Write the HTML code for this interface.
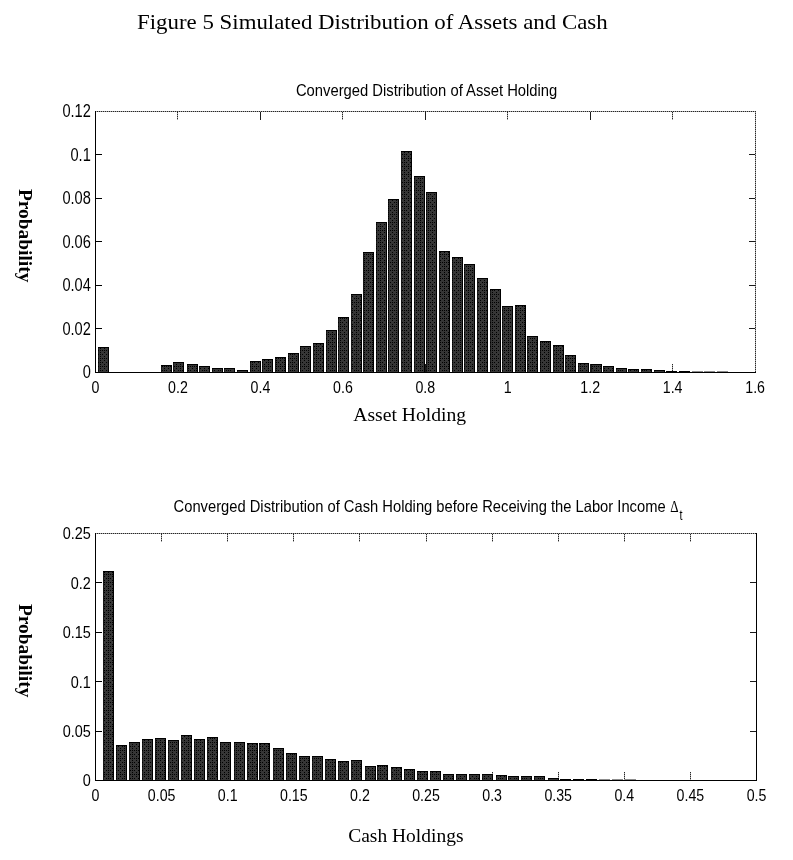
<!DOCTYPE html>
<html lang="en"><head><meta charset="utf-8"><title>Figure 5 Simulated Distribution of Assets and Cash</title>
<style>html,body{margin:0;padding:0;background:#fff;}body{width:793px;height:860px;overflow:hidden;}svg{display:block;}.sans{font-family:"Liberation Sans", Arial, Helvetica, sans-serif;fill:#000;}.serif{font-family:"Liberation Serif", "Times New Roman", Times, serif;fill:#000;}</style>
</head><body>
<svg width="793" height="860" viewBox="0 0 793 860">
<defs><pattern id="dith" width="8" height="8" patternUnits="userSpaceOnUse"><rect width="8" height="8" fill="#363636"/><g fill="#000"><rect x="0" y="0" width="1" height="1"/><rect x="4" y="0" width="1" height="1"/><rect x="2" y="2" width="1" height="1"/><rect x="4" y="2" width="1" height="1"/><rect x="6" y="2" width="1" height="1"/><rect x="0" y="4" width="1" height="1"/><rect x="4" y="4" width="1" height="1"/><rect x="0" y="6" width="1" height="1"/><rect x="2" y="6" width="1" height="1"/><rect x="4" y="6" width="1" height="1"/><rect x="6" y="6" width="1" height="1"/></g></pattern></defs>
<rect width="793" height="860" fill="#fff"/>
<text class="serif" font-size="21.5" textLength="470.7" lengthAdjust="spacingAndGlyphs" x="137" y="29.3" >Figure 5 Simulated Distribution of Assets and Cash</text>
<g shape-rendering="crispEdges">
<rect x="177" y="364" width="1" height="8" fill="#a6a6a6"/>
<line x1="177.5" y1="364" x2="177.5" y2="372" stroke="#262626" stroke-width="1" stroke-dasharray="1 1"/>
<rect x="260" y="364" width="1" height="8" fill="#1a1a1a"/>
<rect x="342" y="364" width="1" height="8" fill="#a6a6a6"/>
<line x1="342.5" y1="364" x2="342.5" y2="372" stroke="#262626" stroke-width="1" stroke-dasharray="1 1"/>
<rect x="425" y="364" width="1" height="8" fill="#1a1a1a"/>
<rect x="507" y="364" width="1" height="8" fill="#a6a6a6"/>
<line x1="507.5" y1="364" x2="507.5" y2="372" stroke="#262626" stroke-width="1" stroke-dasharray="1 1"/>
<rect x="590" y="364" width="1" height="8" fill="#1a1a1a"/>
<rect x="672" y="364" width="1" height="8" fill="#a6a6a6"/>
<line x1="672.5" y1="364" x2="672.5" y2="372" stroke="#262626" stroke-width="1" stroke-dasharray="1 1"/>
<rect x="98" y="347" width="11" height="25" fill="url(#dith)"/>
<rect x="98" y="347" width="11" height="1" fill="#000"/>
<rect x="108" y="347" width="1" height="25" fill="#000"/>
<rect x="98" y="347" width="1" height="25" fill="#000" opacity="0.55"/>
<rect x="161" y="365" width="11" height="7" fill="url(#dith)"/>
<rect x="161" y="365" width="11" height="1" fill="#000"/>
<rect x="171" y="365" width="1" height="7" fill="#000"/>
<rect x="161" y="365" width="1" height="7" fill="#000" opacity="0.55"/>
<rect x="173" y="362" width="11" height="10" fill="url(#dith)"/>
<rect x="173" y="362" width="11" height="1" fill="#000"/>
<rect x="183" y="362" width="1" height="10" fill="#000"/>
<rect x="173" y="362" width="1" height="10" fill="#000" opacity="0.55"/>
<rect x="187" y="364" width="11" height="8" fill="url(#dith)"/>
<rect x="187" y="364" width="11" height="1" fill="#000"/>
<rect x="197" y="364" width="1" height="8" fill="#000"/>
<rect x="187" y="364" width="1" height="8" fill="#000" opacity="0.55"/>
<rect x="199" y="366" width="11" height="6" fill="url(#dith)"/>
<rect x="199" y="366" width="11" height="1" fill="#000"/>
<rect x="209" y="366" width="1" height="6" fill="#000"/>
<rect x="199" y="366" width="1" height="6" fill="#000" opacity="0.55"/>
<rect x="212" y="368" width="11" height="4" fill="url(#dith)"/>
<rect x="212" y="368" width="11" height="1" fill="#000"/>
<rect x="222" y="368" width="1" height="4" fill="#000"/>
<rect x="212" y="368" width="1" height="4" fill="#000" opacity="0.55"/>
<rect x="224" y="368" width="11" height="4" fill="url(#dith)"/>
<rect x="224" y="368" width="11" height="1" fill="#000"/>
<rect x="234" y="368" width="1" height="4" fill="#000"/>
<rect x="224" y="368" width="1" height="4" fill="#000" opacity="0.55"/>
<rect x="237" y="370" width="11" height="2" fill="url(#dith)"/>
<rect x="237" y="370" width="11" height="1" fill="#000"/>
<rect x="247" y="370" width="1" height="2" fill="#000"/>
<rect x="237" y="370" width="1" height="2" fill="#000" opacity="0.55"/>
<rect x="250" y="361" width="11" height="11" fill="url(#dith)"/>
<rect x="250" y="361" width="11" height="1" fill="#000"/>
<rect x="260" y="361" width="1" height="11" fill="#000"/>
<rect x="250" y="361" width="1" height="11" fill="#000" opacity="0.55"/>
<rect x="262" y="359" width="11" height="13" fill="url(#dith)"/>
<rect x="262" y="359" width="11" height="1" fill="#000"/>
<rect x="272" y="359" width="1" height="13" fill="#000"/>
<rect x="262" y="359" width="1" height="13" fill="#000" opacity="0.55"/>
<rect x="275" y="357" width="11" height="15" fill="url(#dith)"/>
<rect x="275" y="357" width="11" height="1" fill="#000"/>
<rect x="285" y="357" width="1" height="15" fill="#000"/>
<rect x="275" y="357" width="1" height="15" fill="#000" opacity="0.55"/>
<rect x="288" y="353" width="11" height="19" fill="url(#dith)"/>
<rect x="288" y="353" width="11" height="1" fill="#000"/>
<rect x="298" y="353" width="1" height="19" fill="#000"/>
<rect x="288" y="353" width="1" height="19" fill="#000" opacity="0.55"/>
<rect x="300" y="346" width="11" height="26" fill="url(#dith)"/>
<rect x="300" y="346" width="11" height="1" fill="#000"/>
<rect x="310" y="346" width="1" height="26" fill="#000"/>
<rect x="300" y="346" width="1" height="26" fill="#000" opacity="0.55"/>
<rect x="313" y="343" width="11" height="29" fill="url(#dith)"/>
<rect x="313" y="343" width="11" height="1" fill="#000"/>
<rect x="323" y="343" width="1" height="29" fill="#000"/>
<rect x="313" y="343" width="1" height="29" fill="#000" opacity="0.55"/>
<rect x="326" y="330" width="11" height="42" fill="url(#dith)"/>
<rect x="326" y="330" width="11" height="1" fill="#000"/>
<rect x="336" y="330" width="1" height="42" fill="#000"/>
<rect x="326" y="330" width="1" height="42" fill="#000" opacity="0.55"/>
<rect x="338" y="317" width="11" height="55" fill="url(#dith)"/>
<rect x="338" y="317" width="11" height="1" fill="#000"/>
<rect x="348" y="317" width="1" height="55" fill="#000"/>
<rect x="338" y="317" width="1" height="55" fill="#000" opacity="0.55"/>
<rect x="351" y="294" width="11" height="78" fill="url(#dith)"/>
<rect x="351" y="294" width="11" height="1" fill="#000"/>
<rect x="361" y="294" width="1" height="78" fill="#000"/>
<rect x="351" y="294" width="1" height="78" fill="#000" opacity="0.55"/>
<rect x="363" y="252" width="11" height="120" fill="url(#dith)"/>
<rect x="363" y="252" width="11" height="1" fill="#000"/>
<rect x="373" y="252" width="1" height="120" fill="#000"/>
<rect x="363" y="252" width="1" height="120" fill="#000" opacity="0.55"/>
<rect x="376" y="222" width="11" height="150" fill="url(#dith)"/>
<rect x="376" y="222" width="11" height="1" fill="#000"/>
<rect x="386" y="222" width="1" height="150" fill="#000"/>
<rect x="376" y="222" width="1" height="150" fill="#000" opacity="0.55"/>
<rect x="388" y="199" width="11" height="173" fill="url(#dith)"/>
<rect x="388" y="199" width="11" height="1" fill="#000"/>
<rect x="398" y="199" width="1" height="173" fill="#000"/>
<rect x="388" y="199" width="1" height="173" fill="#000" opacity="0.55"/>
<rect x="401" y="151" width="11" height="221" fill="url(#dith)"/>
<rect x="401" y="151" width="11" height="1" fill="#000"/>
<rect x="411" y="151" width="1" height="221" fill="#000"/>
<rect x="401" y="151" width="1" height="221" fill="#000" opacity="0.55"/>
<rect x="414" y="176" width="11" height="196" fill="url(#dith)"/>
<rect x="414" y="176" width="11" height="1" fill="#000"/>
<rect x="424" y="176" width="1" height="196" fill="#000"/>
<rect x="414" y="176" width="1" height="196" fill="#000" opacity="0.55"/>
<rect x="426" y="192" width="11" height="180" fill="url(#dith)"/>
<rect x="426" y="192" width="11" height="1" fill="#000"/>
<rect x="436" y="192" width="1" height="180" fill="#000"/>
<rect x="426" y="192" width="1" height="180" fill="#000" opacity="0.55"/>
<rect x="439" y="251" width="11" height="121" fill="url(#dith)"/>
<rect x="439" y="251" width="11" height="1" fill="#000"/>
<rect x="449" y="251" width="1" height="121" fill="#000"/>
<rect x="439" y="251" width="1" height="121" fill="#000" opacity="0.55"/>
<rect x="452" y="257" width="11" height="115" fill="url(#dith)"/>
<rect x="452" y="257" width="11" height="1" fill="#000"/>
<rect x="462" y="257" width="1" height="115" fill="#000"/>
<rect x="452" y="257" width="1" height="115" fill="#000" opacity="0.55"/>
<rect x="464" y="264" width="11" height="108" fill="url(#dith)"/>
<rect x="464" y="264" width="11" height="1" fill="#000"/>
<rect x="474" y="264" width="1" height="108" fill="#000"/>
<rect x="464" y="264" width="1" height="108" fill="#000" opacity="0.55"/>
<rect x="477" y="278" width="11" height="94" fill="url(#dith)"/>
<rect x="477" y="278" width="11" height="1" fill="#000"/>
<rect x="487" y="278" width="1" height="94" fill="#000"/>
<rect x="477" y="278" width="1" height="94" fill="#000" opacity="0.55"/>
<rect x="490" y="289" width="11" height="83" fill="url(#dith)"/>
<rect x="490" y="289" width="11" height="1" fill="#000"/>
<rect x="500" y="289" width="1" height="83" fill="#000"/>
<rect x="490" y="289" width="1" height="83" fill="#000" opacity="0.55"/>
<rect x="502" y="306" width="11" height="66" fill="url(#dith)"/>
<rect x="502" y="306" width="11" height="1" fill="#000"/>
<rect x="512" y="306" width="1" height="66" fill="#000"/>
<rect x="502" y="306" width="1" height="66" fill="#000" opacity="0.55"/>
<rect x="515" y="305" width="11" height="67" fill="url(#dith)"/>
<rect x="515" y="305" width="11" height="1" fill="#000"/>
<rect x="525" y="305" width="1" height="67" fill="#000"/>
<rect x="515" y="305" width="1" height="67" fill="#000" opacity="0.55"/>
<rect x="527" y="336" width="11" height="36" fill="url(#dith)"/>
<rect x="527" y="336" width="11" height="1" fill="#000"/>
<rect x="537" y="336" width="1" height="36" fill="#000"/>
<rect x="527" y="336" width="1" height="36" fill="#000" opacity="0.55"/>
<rect x="540" y="341" width="11" height="31" fill="url(#dith)"/>
<rect x="540" y="341" width="11" height="1" fill="#000"/>
<rect x="550" y="341" width="1" height="31" fill="#000"/>
<rect x="540" y="341" width="1" height="31" fill="#000" opacity="0.55"/>
<rect x="553" y="345" width="11" height="27" fill="url(#dith)"/>
<rect x="553" y="345" width="11" height="1" fill="#000"/>
<rect x="563" y="345" width="1" height="27" fill="#000"/>
<rect x="553" y="345" width="1" height="27" fill="#000" opacity="0.55"/>
<rect x="565" y="355" width="11" height="17" fill="url(#dith)"/>
<rect x="565" y="355" width="11" height="1" fill="#000"/>
<rect x="575" y="355" width="1" height="17" fill="#000"/>
<rect x="565" y="355" width="1" height="17" fill="#000" opacity="0.55"/>
<rect x="578" y="363" width="11" height="9" fill="url(#dith)"/>
<rect x="578" y="363" width="11" height="1" fill="#000"/>
<rect x="588" y="363" width="1" height="9" fill="#000"/>
<rect x="578" y="363" width="1" height="9" fill="#000" opacity="0.55"/>
<rect x="591" y="364" width="11" height="8" fill="url(#dith)"/>
<rect x="591" y="364" width="11" height="1" fill="#000"/>
<rect x="601" y="364" width="1" height="8" fill="#000"/>
<rect x="591" y="364" width="1" height="8" fill="#000" opacity="0.55"/>
<rect x="603" y="366" width="11" height="6" fill="url(#dith)"/>
<rect x="603" y="366" width="11" height="1" fill="#000"/>
<rect x="613" y="366" width="1" height="6" fill="#000"/>
<rect x="603" y="366" width="1" height="6" fill="#000" opacity="0.55"/>
<rect x="616" y="368" width="11" height="4" fill="url(#dith)"/>
<rect x="616" y="368" width="11" height="1" fill="#000"/>
<rect x="626" y="368" width="1" height="4" fill="#000"/>
<rect x="616" y="368" width="1" height="4" fill="#000" opacity="0.55"/>
<rect x="628" y="369" width="11" height="3" fill="url(#dith)"/>
<rect x="628" y="369" width="11" height="1" fill="#000"/>
<rect x="638" y="369" width="1" height="3" fill="#000"/>
<rect x="628" y="369" width="1" height="3" fill="#000" opacity="0.55"/>
<rect x="641" y="369" width="11" height="3" fill="url(#dith)"/>
<rect x="641" y="369" width="11" height="1" fill="#000"/>
<rect x="651" y="369" width="1" height="3" fill="#000"/>
<rect x="641" y="369" width="1" height="3" fill="#000" opacity="0.55"/>
<rect x="654" y="370" width="11" height="2" fill="url(#dith)"/>
<rect x="654" y="370" width="11" height="1" fill="#000"/>
<rect x="664" y="370" width="1" height="2" fill="#000"/>
<rect x="654" y="370" width="1" height="2" fill="#000" opacity="0.55"/>
<rect x="666" y="371" width="11" height="1" fill="#000"/>
<rect x="679" y="371" width="11" height="1" fill="#000"/>
<rect x="692" y="371" width="11" height="1" fill="#000" opacity="0.45"/>
<rect x="704" y="371" width="11" height="1" fill="#000" opacity="0.45"/>
<rect x="717" y="371" width="11" height="1" fill="#000" opacity="0.45"/>
<rect x="95" y="111" width="661" height="1" fill="#a6a6a6"/>
<line x1="95" y1="111.5" x2="756" y2="111.5" stroke="#262626" stroke-width="1" stroke-dasharray="1 1"/>
<rect x="755" y="111" width="1" height="261" fill="#a6a6a6"/>
<line x1="755.5" y1="111" x2="755.5" y2="372" stroke="#262626" stroke-width="1" stroke-dasharray="1 1"/>
<rect x="95" y="111" width="1" height="262" fill="#000"/>
<rect x="95" y="372" width="661" height="1" fill="#000"/>
<rect x="177" y="112" width="1" height="8" fill="#a6a6a6"/>
<line x1="177.5" y1="112" x2="177.5" y2="120" stroke="#262626" stroke-width="1" stroke-dasharray="1 1"/>
<rect x="260" y="112" width="1" height="8" fill="#1a1a1a"/>
<rect x="342" y="112" width="1" height="8" fill="#a6a6a6"/>
<line x1="342.5" y1="112" x2="342.5" y2="120" stroke="#262626" stroke-width="1" stroke-dasharray="1 1"/>
<rect x="425" y="112" width="1" height="8" fill="#1a1a1a"/>
<rect x="507" y="112" width="1" height="8" fill="#a6a6a6"/>
<line x1="507.5" y1="112" x2="507.5" y2="120" stroke="#262626" stroke-width="1" stroke-dasharray="1 1"/>
<rect x="590" y="112" width="1" height="8" fill="#1a1a1a"/>
<rect x="672" y="112" width="1" height="8" fill="#a6a6a6"/>
<line x1="672.5" y1="112" x2="672.5" y2="120" stroke="#262626" stroke-width="1" stroke-dasharray="1 1"/>
<rect x="96" y="328" width="6" height="1" fill="#000"/>
<rect x="749" y="328" width="6" height="1" fill="#1a1a1a"/>
<rect x="96" y="285" width="6" height="1" fill="#000"/>
<rect x="749" y="285" width="6" height="1" fill="#1a1a1a"/>
<rect x="96" y="241" width="6" height="1" fill="#000"/>
<rect x="749" y="241" width="6" height="1" fill="#1a1a1a"/>
<rect x="96" y="198" width="6" height="1" fill="#000"/>
<rect x="749" y="198" width="6" height="1" fill="#1a1a1a"/>
<rect x="96" y="154" width="6" height="1" fill="#000"/>
<rect x="749" y="154" width="6" height="1" fill="#1a1a1a"/>
</g>
<text class="sans" font-size="17" text-anchor="middle" transform="translate(95.5 393.2) scale(0.835 1)" >0</text>
<text class="sans" font-size="17" text-anchor="middle" transform="translate(177.9 393.2) scale(0.835 1)" >0.2</text>
<text class="sans" font-size="17" text-anchor="middle" transform="translate(260.4 393.2) scale(0.835 1)" >0.4</text>
<text class="sans" font-size="17" text-anchor="middle" transform="translate(342.9 393.2) scale(0.835 1)" >0.6</text>
<text class="sans" font-size="17" text-anchor="middle" transform="translate(425.3 393.2) scale(0.835 1)" >0.8</text>
<text class="sans" font-size="17" text-anchor="middle" transform="translate(507.8 393.2) scale(0.835 1)" >1</text>
<text class="sans" font-size="17" text-anchor="middle" transform="translate(590.2 393.2) scale(0.835 1)" >1.2</text>
<text class="sans" font-size="17" text-anchor="middle" transform="translate(672.6 393.2) scale(0.835 1)" >1.4</text>
<text class="sans" font-size="17" text-anchor="middle" transform="translate(755.1 393.2) scale(0.835 1)" >1.6</text>
<text class="sans" font-size="17.5" text-anchor="end" transform="translate(90.8 378.0) scale(0.835 1)" >0</text>
<text class="sans" font-size="17.5" text-anchor="end" transform="translate(90.8 334.6) scale(0.835 1)" >0.02</text>
<text class="sans" font-size="17.5" text-anchor="end" transform="translate(90.8 291.1) scale(0.835 1)" >0.04</text>
<text class="sans" font-size="17.5" text-anchor="end" transform="translate(90.8 247.6) scale(0.835 1)" >0.06</text>
<text class="sans" font-size="17.5" text-anchor="end" transform="translate(90.8 204.2) scale(0.835 1)" >0.08</text>
<text class="sans" font-size="17.5" text-anchor="end" transform="translate(90.8 160.8) scale(0.835 1)" >0.1</text>
<text class="sans" font-size="17.5" text-anchor="end" transform="translate(90.8 117.3) scale(0.835 1)" >0.12</text>
<text class="sans" font-size="17" textLength="261.4" lengthAdjust="spacingAndGlyphs" x="295.9" y="96.2" >Converged Distribution of Asset Holding</text>
<text class="serif" font-size="18.7" textLength="113" lengthAdjust="spacingAndGlyphs" x="353.2" y="420.6" >Asset Holding</text>
<text class="serif" font-size="19.3" font-weight="bold" transform="translate(18.8 189) rotate(90)" textLength="93.4" lengthAdjust="spacingAndGlyphs">Probability</text>
<g shape-rendering="crispEdges">
<rect x="161" y="772" width="1" height="8" fill="#a6a6a6"/>
<line x1="161.5" y1="772" x2="161.5" y2="780" stroke="#262626" stroke-width="1" stroke-dasharray="1 1"/>
<rect x="227" y="772" width="1" height="8" fill="#a6a6a6"/>
<line x1="227.5" y1="772" x2="227.5" y2="780" stroke="#262626" stroke-width="1" stroke-dasharray="1 1"/>
<rect x="293" y="772" width="1" height="8" fill="#a6a6a6"/>
<line x1="293.5" y1="772" x2="293.5" y2="780" stroke="#262626" stroke-width="1" stroke-dasharray="1 1"/>
<rect x="359" y="772" width="1" height="8" fill="#a6a6a6"/>
<line x1="359.5" y1="772" x2="359.5" y2="780" stroke="#262626" stroke-width="1" stroke-dasharray="1 1"/>
<rect x="426" y="772" width="1" height="8" fill="#a6a6a6"/>
<line x1="426.5" y1="772" x2="426.5" y2="780" stroke="#262626" stroke-width="1" stroke-dasharray="1 1"/>
<rect x="492" y="772" width="1" height="8" fill="#a6a6a6"/>
<line x1="492.5" y1="772" x2="492.5" y2="780" stroke="#262626" stroke-width="1" stroke-dasharray="1 1"/>
<rect x="558" y="772" width="1" height="8" fill="#a6a6a6"/>
<line x1="558.5" y1="772" x2="558.5" y2="780" stroke="#262626" stroke-width="1" stroke-dasharray="1 1"/>
<rect x="624" y="772" width="1" height="8" fill="#a6a6a6"/>
<line x1="624.5" y1="772" x2="624.5" y2="780" stroke="#262626" stroke-width="1" stroke-dasharray="1 1"/>
<rect x="690" y="772" width="1" height="8" fill="#a6a6a6"/>
<line x1="690.5" y1="772" x2="690.5" y2="780" stroke="#262626" stroke-width="1" stroke-dasharray="1 1"/>
<rect x="103" y="571" width="11" height="209" fill="url(#dith)"/>
<rect x="103" y="571" width="11" height="1" fill="#000"/>
<rect x="113" y="571" width="1" height="209" fill="#000"/>
<rect x="103" y="571" width="1" height="209" fill="#000" opacity="0.55"/>
<rect x="116" y="745" width="11" height="35" fill="url(#dith)"/>
<rect x="116" y="745" width="11" height="1" fill="#000"/>
<rect x="126" y="745" width="1" height="35" fill="#000"/>
<rect x="116" y="745" width="1" height="35" fill="#000" opacity="0.55"/>
<rect x="129" y="742" width="11" height="38" fill="url(#dith)"/>
<rect x="129" y="742" width="11" height="1" fill="#000"/>
<rect x="139" y="742" width="1" height="38" fill="#000"/>
<rect x="129" y="742" width="1" height="38" fill="#000" opacity="0.55"/>
<rect x="142" y="739" width="11" height="41" fill="url(#dith)"/>
<rect x="142" y="739" width="11" height="1" fill="#000"/>
<rect x="152" y="739" width="1" height="41" fill="#000"/>
<rect x="142" y="739" width="1" height="41" fill="#000" opacity="0.55"/>
<rect x="155" y="738" width="11" height="42" fill="url(#dith)"/>
<rect x="155" y="738" width="11" height="1" fill="#000"/>
<rect x="165" y="738" width="1" height="42" fill="#000"/>
<rect x="155" y="738" width="1" height="42" fill="#000" opacity="0.55"/>
<rect x="168" y="740" width="11" height="40" fill="url(#dith)"/>
<rect x="168" y="740" width="11" height="1" fill="#000"/>
<rect x="178" y="740" width="1" height="40" fill="#000"/>
<rect x="168" y="740" width="1" height="40" fill="#000" opacity="0.55"/>
<rect x="181" y="735" width="11" height="45" fill="url(#dith)"/>
<rect x="181" y="735" width="11" height="1" fill="#000"/>
<rect x="191" y="735" width="1" height="45" fill="#000"/>
<rect x="181" y="735" width="1" height="45" fill="#000" opacity="0.55"/>
<rect x="194" y="739" width="11" height="41" fill="url(#dith)"/>
<rect x="194" y="739" width="11" height="1" fill="#000"/>
<rect x="204" y="739" width="1" height="41" fill="#000"/>
<rect x="194" y="739" width="1" height="41" fill="#000" opacity="0.55"/>
<rect x="207" y="737" width="11" height="43" fill="url(#dith)"/>
<rect x="207" y="737" width="11" height="1" fill="#000"/>
<rect x="217" y="737" width="1" height="43" fill="#000"/>
<rect x="207" y="737" width="1" height="43" fill="#000" opacity="0.55"/>
<rect x="220" y="742" width="11" height="38" fill="url(#dith)"/>
<rect x="220" y="742" width="11" height="1" fill="#000"/>
<rect x="230" y="742" width="1" height="38" fill="#000"/>
<rect x="220" y="742" width="1" height="38" fill="#000" opacity="0.55"/>
<rect x="234" y="742" width="11" height="38" fill="url(#dith)"/>
<rect x="234" y="742" width="11" height="1" fill="#000"/>
<rect x="244" y="742" width="1" height="38" fill="#000"/>
<rect x="234" y="742" width="1" height="38" fill="#000" opacity="0.55"/>
<rect x="247" y="743" width="11" height="37" fill="url(#dith)"/>
<rect x="247" y="743" width="11" height="1" fill="#000"/>
<rect x="257" y="743" width="1" height="37" fill="#000"/>
<rect x="247" y="743" width="1" height="37" fill="#000" opacity="0.55"/>
<rect x="259" y="743" width="11" height="37" fill="url(#dith)"/>
<rect x="259" y="743" width="11" height="1" fill="#000"/>
<rect x="269" y="743" width="1" height="37" fill="#000"/>
<rect x="259" y="743" width="1" height="37" fill="#000" opacity="0.55"/>
<rect x="273" y="748" width="11" height="32" fill="url(#dith)"/>
<rect x="273" y="748" width="11" height="1" fill="#000"/>
<rect x="283" y="748" width="1" height="32" fill="#000"/>
<rect x="273" y="748" width="1" height="32" fill="#000" opacity="0.55"/>
<rect x="286" y="753" width="11" height="27" fill="url(#dith)"/>
<rect x="286" y="753" width="11" height="1" fill="#000"/>
<rect x="296" y="753" width="1" height="27" fill="#000"/>
<rect x="286" y="753" width="1" height="27" fill="#000" opacity="0.55"/>
<rect x="299" y="756" width="11" height="24" fill="url(#dith)"/>
<rect x="299" y="756" width="11" height="1" fill="#000"/>
<rect x="309" y="756" width="1" height="24" fill="#000"/>
<rect x="299" y="756" width="1" height="24" fill="#000" opacity="0.55"/>
<rect x="312" y="756" width="11" height="24" fill="url(#dith)"/>
<rect x="312" y="756" width="11" height="1" fill="#000"/>
<rect x="322" y="756" width="1" height="24" fill="#000"/>
<rect x="312" y="756" width="1" height="24" fill="#000" opacity="0.55"/>
<rect x="325" y="759" width="11" height="21" fill="url(#dith)"/>
<rect x="325" y="759" width="11" height="1" fill="#000"/>
<rect x="335" y="759" width="1" height="21" fill="#000"/>
<rect x="325" y="759" width="1" height="21" fill="#000" opacity="0.55"/>
<rect x="338" y="761" width="11" height="19" fill="url(#dith)"/>
<rect x="338" y="761" width="11" height="1" fill="#000"/>
<rect x="348" y="761" width="1" height="19" fill="#000"/>
<rect x="338" y="761" width="1" height="19" fill="#000" opacity="0.55"/>
<rect x="351" y="760" width="11" height="20" fill="url(#dith)"/>
<rect x="351" y="760" width="11" height="1" fill="#000"/>
<rect x="361" y="760" width="1" height="20" fill="#000"/>
<rect x="351" y="760" width="1" height="20" fill="#000" opacity="0.55"/>
<rect x="365" y="766" width="11" height="14" fill="url(#dith)"/>
<rect x="365" y="766" width="11" height="1" fill="#000"/>
<rect x="375" y="766" width="1" height="14" fill="#000"/>
<rect x="365" y="766" width="1" height="14" fill="#000" opacity="0.55"/>
<rect x="377" y="765" width="11" height="15" fill="url(#dith)"/>
<rect x="377" y="765" width="11" height="1" fill="#000"/>
<rect x="387" y="765" width="1" height="15" fill="#000"/>
<rect x="377" y="765" width="1" height="15" fill="#000" opacity="0.55"/>
<rect x="391" y="767" width="11" height="13" fill="url(#dith)"/>
<rect x="391" y="767" width="11" height="1" fill="#000"/>
<rect x="401" y="767" width="1" height="13" fill="#000"/>
<rect x="391" y="767" width="1" height="13" fill="#000" opacity="0.55"/>
<rect x="404" y="769" width="11" height="11" fill="url(#dith)"/>
<rect x="404" y="769" width="11" height="1" fill="#000"/>
<rect x="414" y="769" width="1" height="11" fill="#000"/>
<rect x="404" y="769" width="1" height="11" fill="#000" opacity="0.55"/>
<rect x="417" y="771" width="11" height="9" fill="url(#dith)"/>
<rect x="417" y="771" width="11" height="1" fill="#000"/>
<rect x="427" y="771" width="1" height="9" fill="#000"/>
<rect x="417" y="771" width="1" height="9" fill="#000" opacity="0.55"/>
<rect x="430" y="771" width="11" height="9" fill="url(#dith)"/>
<rect x="430" y="771" width="11" height="1" fill="#000"/>
<rect x="440" y="771" width="1" height="9" fill="#000"/>
<rect x="430" y="771" width="1" height="9" fill="#000" opacity="0.55"/>
<rect x="443" y="774" width="11" height="6" fill="url(#dith)"/>
<rect x="443" y="774" width="11" height="1" fill="#000"/>
<rect x="453" y="774" width="1" height="6" fill="#000"/>
<rect x="443" y="774" width="1" height="6" fill="#000" opacity="0.55"/>
<rect x="456" y="774" width="11" height="6" fill="url(#dith)"/>
<rect x="456" y="774" width="11" height="1" fill="#000"/>
<rect x="466" y="774" width="1" height="6" fill="#000"/>
<rect x="456" y="774" width="1" height="6" fill="#000" opacity="0.55"/>
<rect x="469" y="774" width="11" height="6" fill="url(#dith)"/>
<rect x="469" y="774" width="11" height="1" fill="#000"/>
<rect x="479" y="774" width="1" height="6" fill="#000"/>
<rect x="469" y="774" width="1" height="6" fill="#000" opacity="0.55"/>
<rect x="482" y="774" width="11" height="6" fill="url(#dith)"/>
<rect x="482" y="774" width="11" height="1" fill="#000"/>
<rect x="492" y="774" width="1" height="6" fill="#000"/>
<rect x="482" y="774" width="1" height="6" fill="#000" opacity="0.55"/>
<rect x="496" y="775" width="11" height="5" fill="url(#dith)"/>
<rect x="496" y="775" width="11" height="1" fill="#000"/>
<rect x="506" y="775" width="1" height="5" fill="#000"/>
<rect x="496" y="775" width="1" height="5" fill="#000" opacity="0.55"/>
<rect x="508" y="776" width="11" height="4" fill="url(#dith)"/>
<rect x="508" y="776" width="11" height="1" fill="#000"/>
<rect x="518" y="776" width="1" height="4" fill="#000"/>
<rect x="508" y="776" width="1" height="4" fill="#000" opacity="0.55"/>
<rect x="521" y="776" width="11" height="4" fill="url(#dith)"/>
<rect x="521" y="776" width="11" height="1" fill="#000"/>
<rect x="531" y="776" width="1" height="4" fill="#000"/>
<rect x="521" y="776" width="1" height="4" fill="#000" opacity="0.55"/>
<rect x="534" y="776" width="11" height="4" fill="url(#dith)"/>
<rect x="534" y="776" width="11" height="1" fill="#000"/>
<rect x="544" y="776" width="1" height="4" fill="#000"/>
<rect x="534" y="776" width="1" height="4" fill="#000" opacity="0.55"/>
<rect x="548" y="778" width="11" height="2" fill="url(#dith)"/>
<rect x="548" y="778" width="11" height="1" fill="#000"/>
<rect x="558" y="778" width="1" height="2" fill="#000"/>
<rect x="548" y="778" width="1" height="2" fill="#000" opacity="0.55"/>
<rect x="560" y="779" width="11" height="1" fill="#000"/>
<rect x="573" y="779" width="11" height="1" fill="#000"/>
<rect x="586" y="779" width="11" height="1" fill="#000"/>
<rect x="599" y="779" width="11" height="1" fill="#000" opacity="0.45"/>
<rect x="612" y="779" width="11" height="1" fill="#000" opacity="0.45"/>
<rect x="625" y="779" width="11" height="1" fill="#000" opacity="0.45"/>
<rect x="95" y="533" width="662" height="1" fill="#a6a6a6"/>
<line x1="95" y1="533.5" x2="757" y2="533.5" stroke="#262626" stroke-width="1" stroke-dasharray="1 1"/>
<rect x="756" y="533" width="1" height="248" fill="#000"/>
<rect x="95" y="533" width="1" height="248" fill="#000"/>
<rect x="95" y="780" width="662" height="1" fill="#000"/>
<rect x="161" y="534" width="1" height="8" fill="#a6a6a6"/>
<line x1="161.5" y1="534" x2="161.5" y2="542" stroke="#262626" stroke-width="1" stroke-dasharray="1 1"/>
<rect x="227" y="534" width="1" height="8" fill="#a6a6a6"/>
<line x1="227.5" y1="534" x2="227.5" y2="542" stroke="#262626" stroke-width="1" stroke-dasharray="1 1"/>
<rect x="293" y="534" width="1" height="8" fill="#a6a6a6"/>
<line x1="293.5" y1="534" x2="293.5" y2="542" stroke="#262626" stroke-width="1" stroke-dasharray="1 1"/>
<rect x="359" y="534" width="1" height="8" fill="#a6a6a6"/>
<line x1="359.5" y1="534" x2="359.5" y2="542" stroke="#262626" stroke-width="1" stroke-dasharray="1 1"/>
<rect x="426" y="534" width="1" height="8" fill="#a6a6a6"/>
<line x1="426.5" y1="534" x2="426.5" y2="542" stroke="#262626" stroke-width="1" stroke-dasharray="1 1"/>
<rect x="492" y="534" width="1" height="8" fill="#a6a6a6"/>
<line x1="492.5" y1="534" x2="492.5" y2="542" stroke="#262626" stroke-width="1" stroke-dasharray="1 1"/>
<rect x="558" y="534" width="1" height="8" fill="#a6a6a6"/>
<line x1="558.5" y1="534" x2="558.5" y2="542" stroke="#262626" stroke-width="1" stroke-dasharray="1 1"/>
<rect x="624" y="534" width="1" height="8" fill="#a6a6a6"/>
<line x1="624.5" y1="534" x2="624.5" y2="542" stroke="#262626" stroke-width="1" stroke-dasharray="1 1"/>
<rect x="690" y="534" width="1" height="8" fill="#a6a6a6"/>
<line x1="690.5" y1="534" x2="690.5" y2="542" stroke="#262626" stroke-width="1" stroke-dasharray="1 1"/>
<rect x="96" y="731" width="6" height="1" fill="#000"/>
<rect x="750" y="731" width="6" height="1" fill="#1a1a1a"/>
<rect x="96" y="681" width="6" height="1" fill="#000"/>
<rect x="750" y="681" width="6" height="1" fill="#1a1a1a"/>
<rect x="96" y="632" width="6" height="1" fill="#000"/>
<rect x="750" y="632" width="6" height="1" fill="#1a1a1a"/>
<rect x="96" y="582" width="6" height="1" fill="#000"/>
<rect x="750" y="582" width="6" height="1" fill="#1a1a1a"/>
</g>
<text class="sans" font-size="17" text-anchor="middle" transform="translate(95.5 801) scale(0.835 1)" >0</text>
<text class="sans" font-size="17" text-anchor="middle" transform="translate(161.6 801) scale(0.835 1)" >0.05</text>
<text class="sans" font-size="17" text-anchor="middle" transform="translate(227.7 801) scale(0.835 1)" >0.1</text>
<text class="sans" font-size="17" text-anchor="middle" transform="translate(293.8 801) scale(0.835 1)" >0.15</text>
<text class="sans" font-size="17" text-anchor="middle" transform="translate(359.9 801) scale(0.835 1)" >0.2</text>
<text class="sans" font-size="17" text-anchor="middle" transform="translate(426.0 801) scale(0.835 1)" >0.25</text>
<text class="sans" font-size="17" text-anchor="middle" transform="translate(492.1 801) scale(0.835 1)" >0.3</text>
<text class="sans" font-size="17" text-anchor="middle" transform="translate(558.2 801) scale(0.835 1)" >0.35</text>
<text class="sans" font-size="17" text-anchor="middle" transform="translate(624.3 801) scale(0.835 1)" >0.4</text>
<text class="sans" font-size="17" text-anchor="middle" transform="translate(690.4 801) scale(0.835 1)" >0.45</text>
<text class="sans" font-size="17" text-anchor="middle" transform="translate(756.5 801) scale(0.835 1)" >0.5</text>
<text class="sans" font-size="17.3" text-anchor="end" transform="translate(90.8 786.3) scale(0.835 1)" >0</text>
<text class="sans" font-size="17.3" text-anchor="end" transform="translate(90.8 736.9) scale(0.835 1)" >0.05</text>
<text class="sans" font-size="17.3" text-anchor="end" transform="translate(90.8 687.5) scale(0.835 1)" >0.1</text>
<text class="sans" font-size="17.3" text-anchor="end" transform="translate(90.8 638.1) scale(0.835 1)" >0.15</text>
<text class="sans" font-size="17.3" text-anchor="end" transform="translate(90.8 588.7) scale(0.835 1)" >0.2</text>
<text class="sans" font-size="17.3" text-anchor="end" transform="translate(90.8 539.3) scale(0.835 1)" >0.25</text>
<text class="sans" font-size="16.5" textLength="492" lengthAdjust="spacingAndGlyphs" x="173.6" y="512.3" >Converged Distribution of Cash Holding before Receiving the Labor Income</text>
<text class="serif" font-size="17" textLength="8.3" lengthAdjust="spacingAndGlyphs" x="670.3" y="512.3" >&#916;</text>
<text class="sans" font-size="14" textLength="3" lengthAdjust="spacingAndGlyphs" x="679.6" y="520.3" >t</text>
<text class="serif" font-size="18.9" textLength="115.3" lengthAdjust="spacingAndGlyphs" x="348.2" y="841.8" >Cash Holdings</text>
<text class="serif" font-size="19.3" font-weight="bold" transform="translate(18.8 604) rotate(90)" textLength="93.4" lengthAdjust="spacingAndGlyphs">Probability</text>
</svg>
</body></html>
